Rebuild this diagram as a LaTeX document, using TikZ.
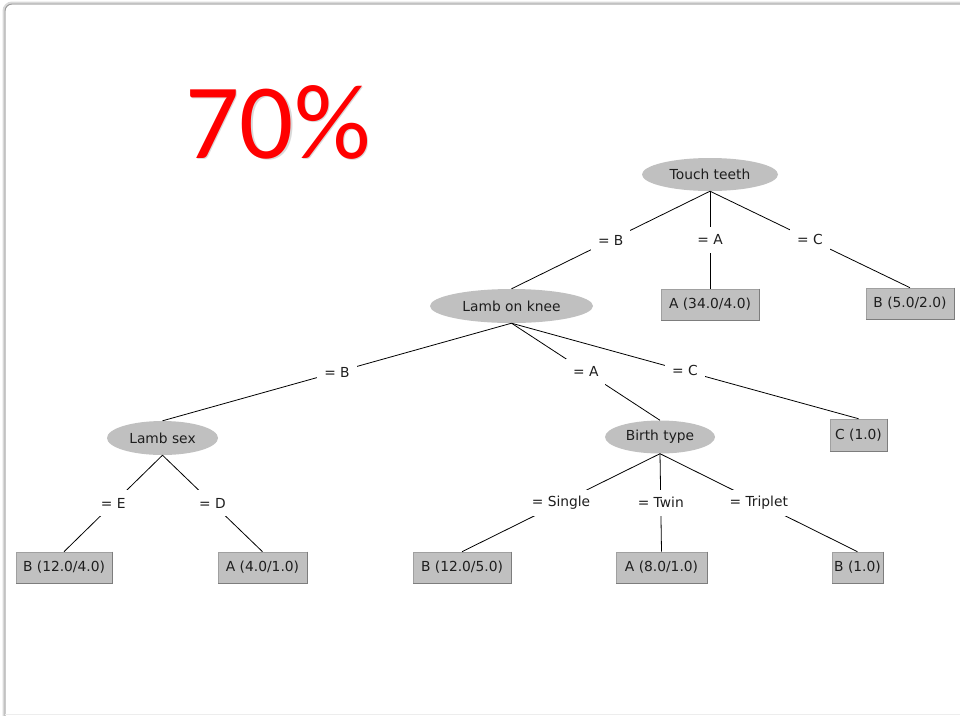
\documentclass[tikz,border=0pt]{standalone}
\usepackage{fontspec}
\setmainfont{DejaVu Sans}
\newfontfamily\bigfont{Carlito}
\usetikzlibrary{shapes.geometric}

\definecolor{nodegray}{RGB}{192,192,192}
\definecolor{boxedge}{RGB}{160,160,160}
\definecolor{boxdark}{RGB}{125,125,125}
\definecolor{inktext}{RGB}{30,30,30}

\tikzset{
  split/.style={ellipse, fill=nodegray, inner sep=0pt, text=inktext,
    font=\fontsize{13.8}{16}\selectfont},
  leaf/.style={rectangle, fill=nodegray, draw=boxedge, line width=0.6pt,
    inner sep=0pt, minimum height=31pt, text=inktext,
    font=\fontsize{13.8}{16}\selectfont},
  edge/.style={draw=black, line width=0.8pt},
  lab/.style={fill=white, inner xsep=7pt, inner ysep=0pt, minimum height=26pt,
    text=inktext, font=\fontsize{13.8}{16}\selectfont},
  shade/.style={draw=boxdark, line width=0.8pt},
}

\begin{document}
\begin{tikzpicture}[x=1pt,y=-1pt]
\useasboundingbox (0,0) rectangle (960,715);

% slide frame with its soft edge
\draw[black!15, line width=3pt, rounded corners=8pt] (4,730) -- (4,3) -- (990,3);
\draw[black!40, line width=0.9pt, rounded corners=7pt] (5,730) -- (5,4) -- (990,4);
\draw[black!7, line width=1pt] (5,714) -- (960,714);

% score
\node[font=\bigfont\fontsize{107}{107}\selectfont, text=black!15, anchor=base]
  (pctshadow) at (279.3,159.3) {70\%};
\node[font=\bigfont\fontsize{107}{107}\selectfont, text=red, anchor=base]
  (pct) at (278,158) {70\%};

% split nodes
\node[split, minimum width=136pt, minimum height=33pt] (tt)  at (710,174.5) {Touch teeth};
\node[split, minimum width=163pt, minimum height=34pt] (lok) at (511.5,306) {Lamb on knee};
\node[split, minimum width=111pt, minimum height=34pt] (ls)  at (162.5,438) {Lamb sex};
\node[split, minimum width=110pt, minimum height=33pt] (bt)  at (660,437)   {Birth type};

% leaves
\node[leaf, minimum width=98pt] (l1) at (710,304.5)   {A (34.0/4.0)};
\node[leaf, minimum width=88pt] (l2) at (910,303.5)   {B (5.0/2.0)};
\node[leaf, minimum width=57pt, minimum height=32pt] (l3) at (858.5,435) {C (1.0)};
\node[leaf, minimum width=96pt] (l4) at (64,567.5)    {B (12.0/4.0)};
\node[leaf, minimum width=89pt] (l5) at (262.5,567.5) {A (4.0/1.0)};
\node[leaf, minimum width=98pt] (l6) at (462,567.5)   {B (12.0/5.0)};
\node[leaf, minimum width=91pt] (l7) at (661.5,567.5) {A (8.0/1.0)};
\node[leaf, minimum width=51pt] (l8) at (857.5,567.5) {B (1.0)};

% darker lower and right edges of the leaves
\foreach \n in {l1,l2,l3,l4,l5,l6,l7,l8}
  \draw[shade] (\n.north east) -- (\n.south east) -- (\n.south west);

% branches with their tests
\path[edge] (tt.south) -- node[lab] (e1) {= B} (lok.north);
\path[edge] (tt.south) -- node[lab] (e2) {= A} (l1.north);
\path[edge] (tt.south) -- node[lab] (e3) {= C} (l2.north);

\path[edge] (lok.south) -- node[lab] (e4) {= B} (ls.north);
\path[edge] (lok.south) -- node[lab] (e5) {= A} (bt.north);
\path[edge] (lok.south) -- node[lab] (e6) {= C} (l3.north);

\path[edge] (ls.south) -- node[lab] (e7) {= E} (l4.north);
\path[edge] (ls.south) -- node[lab] (e8) {= D} (l5.north);

\path[edge] (bt.south) -- node[lab] (e9)  {= Single}  (l6.north);
\path[edge] (bt.south) -- node[lab] (e10) {= Twin}    (l7.north);
\path[edge] (bt.south) -- node[lab] (e11) {= Triplet} (l8.north);
\end{tikzpicture}
\end{document}
